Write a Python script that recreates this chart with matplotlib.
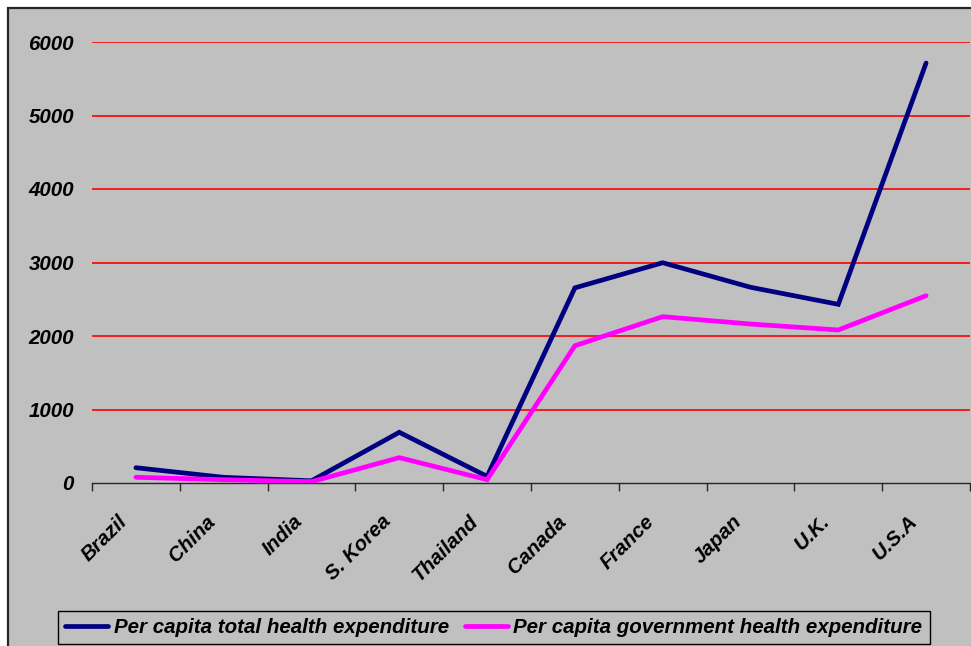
import matplotlib
matplotlib.use("Agg")
import matplotlib.pyplot as plt
import matplotlib.transforms as mtransforms
from matplotlib.patches import Rectangle

countries = ["Brazil", "China", "India", "S. Korea", "Thailand",
             "Canada", "France", "Japan", "U.K.", "U.S.A"]
total_exp = [208, 77, 30, 690, 90, 2655, 2997, 2663, 2431, 5714]
gov_exp = [78, 45, 18, 345, 45, 1868, 2263, 2163, 2082, 2548]
y_ticks = [0, 1000, 2000, 3000, 4000, 5000, 6000]
series_names = ["Per capita total health expenditure",
                "Per capita government health expenditure"]

W, H = 971, 646
fig = plt.figure(figsize=(W / 100, H / 100), dpi=100, facecolor="white")

# chart frame
frame = Rectangle((8 / W, -0.05), 1.1, 1 - 8 / H + 0.05,
                  transform=fig.transFigure, facecolor="#C0C0C0",
                  edgecolor="#262626", linewidth=1.6, zorder=-10)
fig.patches.append(frame)

font = dict(family="Liberation Sans", weight="bold", style="italic")
fs = 14.8

ax = fig.add_axes([92 / W, 1 - 483 / H, (970 - 92) / W, (483 - 42) / H])
ax.set_facecolor("none")
x = list(range(len(countries)))

ax.plot(x, total_exp, color="#000080", linewidth=3.4, solid_capstyle="round",
        solid_joinstyle="miter", label=series_names[0], zorder=3)
ax.plot(x, gov_exp, color="#FF00FF", linewidth=3.4, solid_capstyle="round",
        solid_joinstyle="miter", label=series_names[1], zorder=3)

ax.set_xlim(-0.5, len(countries) - 0.5)
ax.set_ylim(0, 6000)

for v in y_ticks[1:]:
    ax.axhline(v, color="#FF0000", linewidth=1.2, zorder=1)

for s in ["top", "right", "left"]:
    ax.spines[s].set_visible(False)
ax.spines["bottom"].set_color("#262626")
ax.spines["bottom"].set_linewidth(1.0)

ax.set_yticks(y_ticks)
ax.set_yticklabels([str(v) for v in y_ticks], fontsize=fs, **font)
ax.tick_params(axis="y", length=0, pad=13)

ax.set_xticks(x)
ax.set_xticklabels(countries, fontsize=fs, rotation=45, ha="right", **font)
ax.tick_params(axis="x", which="major", length=0, pad=20)
shift = mtransforms.ScaledTranslation(-5 / 100, -1 / 100, fig.dpi_scale_trans)
for lbl in ax.get_xticklabels():
    lbl.set_transform(lbl.get_transform() + shift)
ax.set_xticks([i - 0.5 for i in range(len(countries) + 1)], minor=True)
ax.tick_params(axis="x", which="minor", length=6, width=1.0, color="#262626",
               direction="out")

leg = fig.legend(loc="lower left", bbox_to_anchor=(58 / W, 1 - 644 / H),
                 ncol=2, frameon=True, fancybox=False, facecolor="#C0C0C0",
                 edgecolor="#000000", framealpha=1,
                 prop=dict(size=fs, **font), handlelength=2.1,
                 handletextpad=0.25, columnspacing=0.8, borderpad=0.35,
                 borderaxespad=0)
leg.get_frame().set_linewidth(1.0)
for h in leg.get_lines():
    h.set_linewidth(3.4)

fig.savefig("out.png", dpi=100, facecolor="white")
